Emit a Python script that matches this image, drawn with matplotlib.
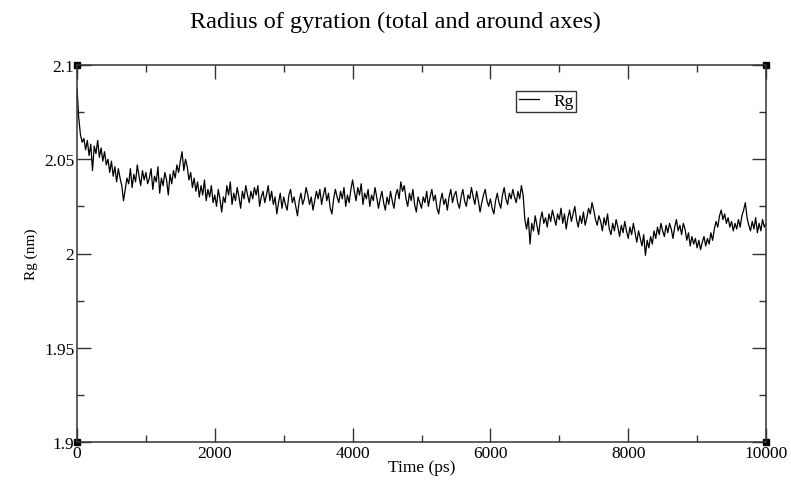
import numpy as np
import matplotlib
matplotlib.use('Agg')
import matplotlib.pyplot as plt
import matplotlib.ticker as ticker

# Rg trace, one value every 25 ps
time_step = 25
rg_values = [
    2.088, 2.072, 2.063, 2.059, 2.061, 2.055, 2.060, 2.052, 2.058, 2.044,
    2.057, 2.053, 2.060, 2.051, 2.056, 2.049, 2.054, 2.047, 2.050, 2.043,
    2.049, 2.041, 2.046, 2.038, 2.045, 2.040, 2.036, 2.028, 2.034, 2.040,
    2.037, 2.045, 2.035, 2.042, 2.038, 2.047, 2.041, 2.036, 2.044, 2.039,
    2.043, 2.037, 2.040, 2.045, 2.034, 2.041, 2.038, 2.046, 2.032, 2.040,
    2.036, 2.043, 2.039, 2.031, 2.042, 2.037, 2.044, 2.040, 2.047, 2.043,
    2.049, 2.054, 2.044, 2.050, 2.046, 2.039, 2.043, 2.035, 2.040, 2.033,
    2.038, 2.030, 2.036, 2.031, 2.039, 2.028, 2.034, 2.030, 2.036, 2.027,
    2.031, 2.025, 2.034, 2.029, 2.022, 2.030, 2.027, 2.036, 2.031, 2.038,
    2.026, 2.032, 2.028, 2.035, 2.030, 2.024, 2.033, 2.029, 2.036, 2.031,
    2.027, 2.033, 2.029, 2.035, 2.031, 2.036, 2.025, 2.030, 2.033, 2.027,
    2.031, 2.036, 2.028, 2.033, 2.026, 2.030, 2.021, 2.027, 2.032, 2.024,
    2.030, 2.026, 2.023, 2.031, 2.034, 2.027, 2.030, 2.025, 2.020, 2.028,
    2.032, 2.026, 2.029, 2.035, 2.031, 2.026, 2.030, 2.023, 2.028, 2.033,
    2.029, 2.034, 2.026, 2.031, 2.035, 2.028, 2.032, 2.024, 2.021, 2.029,
    2.034, 2.030, 2.027, 2.033, 2.029, 2.035, 2.025, 2.031, 2.027, 2.034,
    2.039, 2.033, 2.028, 2.035, 2.031, 2.037, 2.026, 2.032, 2.029, 2.034,
    2.025, 2.031, 2.028, 2.035, 2.030, 2.024, 2.029, 2.033, 2.027, 2.023,
    2.030, 2.026, 2.033, 2.028, 2.024, 2.031, 2.034, 2.029, 2.038, 2.033,
    2.036, 2.029, 2.025, 2.032, 2.028, 2.034, 2.026, 2.022, 2.030, 2.027,
    2.024, 2.030, 2.027, 2.033, 2.025, 2.030, 2.034, 2.028, 2.031, 2.024,
    2.021, 2.028, 2.032, 2.026, 2.029, 2.023, 2.030, 2.034, 2.027, 2.031,
    2.033, 2.027, 2.024, 2.030, 2.034, 2.028, 2.025, 2.031, 2.029, 2.035,
    2.030, 2.026, 2.033, 2.028, 2.022, 2.027, 2.031, 2.034, 2.028, 2.025,
    2.029, 2.024, 2.021, 2.028, 2.032, 2.027, 2.024, 2.031, 2.035, 2.029,
    2.026, 2.032, 2.029, 2.034, 2.030, 2.027, 2.033, 2.029, 2.036, 2.031,
    2.018, 2.013, 2.019, 2.005, 2.016, 2.012, 2.020, 2.015, 2.010, 2.018,
    2.022, 2.016, 2.019, 2.014, 2.021, 2.017, 2.023, 2.019, 2.015, 2.021,
    2.018, 2.024, 2.016, 2.021, 2.013, 2.019, 2.023, 2.017, 2.021, 2.025,
    2.018, 2.014, 2.020, 2.016, 2.022, 2.015, 2.019, 2.024, 2.021, 2.027,
    2.023, 2.018, 2.015, 2.020, 2.017, 2.012, 2.019, 2.015, 2.021, 2.013,
    2.010, 2.016, 2.012, 2.018, 2.014, 2.009, 2.015, 2.011, 2.017, 2.012,
    2.008, 2.014, 2.010, 2.016, 2.011, 2.006, 2.012, 2.008, 2.004, 2.010,
    1.999, 2.007, 2.003, 2.009, 2.005, 2.012, 2.008, 2.014, 2.010, 2.016,
    2.012, 2.009, 2.015, 2.011, 2.016, 2.013, 2.008, 2.014, 2.018, 2.012,
    2.015, 2.010, 2.016, 2.013, 2.007, 2.011, 2.004, 2.009, 2.005, 2.008,
    2.003, 2.007, 2.002, 2.006, 2.009, 2.004, 2.008, 2.005, 2.011, 2.007,
    2.013, 2.017, 2.014, 2.020, 2.023, 2.018, 2.021, 2.016, 2.019, 2.014,
    2.017, 2.012, 2.016, 2.013, 2.018, 2.014, 2.020, 2.023, 2.027, 2.019,
    2.015, 2.012, 2.017, 2.013, 2.019, 2.011, 2.016, 2.012, 2.018, 2.014,
    2.016,
]
time_ps = np.arange(len(rg_values)) * time_step

x_ticks = [0, 2000, 4000, 6000, 8000, 10000]
y_ticks = [1.9, 1.95, 2.0, 2.05, 2.1]

plt.rcParams['font.family'] = ['Liberation Serif', 'DejaVu Serif']

fig = plt.figure(figsize=(7.91, 4.81), dpi=100)
ax = fig.add_axes([77 / 791, 1 - 443 / 481, 689 / 791, 377 / 481])

ax.plot(time_ps, rg_values, color='black', linewidth=0.9, label='Rg')

ax.set_xlim(0, 10000)
ax.set_ylim(1.9, 2.1)
ax.set_xticks(x_ticks)
ax.set_yticks(y_ticks)
ax.xaxis.set_minor_locator(ticker.MultipleLocator(1000))
ax.yaxis.set_minor_locator(ticker.MultipleLocator(0.025))
ax.yaxis.set_major_formatter(ticker.FuncFormatter(lambda v, p: f"{v:g}"))

ax.tick_params(which='both', direction='in', top=True, right=True,
               labelsize=12.5, pad=2, color='#333333', width=1)
ax.tick_params(which='major', length=10)
ax.tick_params(which='minor', length=5)
for s in ax.spines.values():
    s.set_color('#333333')
    s.set_linewidth(1.1)

# little black squares Grace draws at the corners
ax.plot([0, 1, 0, 1], [0, 0, 1, 1], 's', color='black', markersize=5,
        transform=ax.transAxes, clip_on=False)

ax.set_xlabel('Time (ps)', fontsize=12.5, labelpad=-1)
ax.set_ylabel('Rg (nm)', fontsize=11, labelpad=4)
fig.suptitle('Radius of gyration (total and around axes)', fontsize=17.5, y=0.975)

leg = ax.legend(loc='center', bbox_to_anchor=(0.681, 0.904), fontsize=12.5,
                handlelength=1.2, handletextpad=0.8, borderpad=0.15,
                fancybox=False, framealpha=1)
leg.get_frame().set_edgecolor('#333333')
leg.get_frame().set_linewidth(1.0)

fig.savefig('out.png', dpi=100)
